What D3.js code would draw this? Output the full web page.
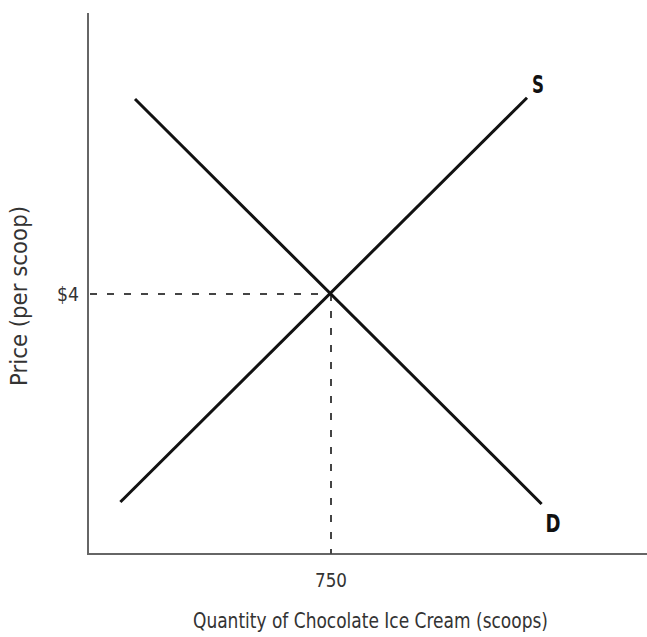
<!DOCTYPE html>
<html>
<head>
<meta charset="utf-8">
<script src="https://cdn.jsdelivr.net/npm/d3@7"></script>
<style>
  body { margin: 0; background: #fff; }
  text { font-family: "DejaVu Sans", sans-serif; fill: #333; }
</style>
</head>
<body>
<div id="wrapper"></div>
<script>
// data
const supplyPoints = [{ q: 100, p: 0.8 }, { q: 1355, p: 7.02 }]
const demandPoints = [{ q: 145, p: 7.0 }, { q: 1400, p: 0.77 }]
const equilibrium = { q: 750, p: 4 }
const xTickLabels = ['750']
const yTickLabels = ['$4']
const curveLabels = ['S', 'D']

const width = 647
const height = 637

const svg = d3.select('#wrapper').append('svg')
  .attr('width', width)
  .attr('height', height)

// scales
const x = d3.scaleLinear().domain([0, 1500]).range([88, 574])
const y = d3.scaleLinear().domain([0, 8]).range([554, 34])

// axes
svg.append('line')
  .attr('x1', x(0)).attr('x2', x(0))
  .attr('y1', 13).attr('y2', y(0))
  .attr('stroke', '#666').attr('stroke-width', 2)
svg.append('line')
  .attr('x1', x(0) - 1).attr('x2', width)
  .attr('y1', y(0)).attr('y2', y(0))
  .attr('stroke', '#666').attr('stroke-width', 2)

// dashed guides
svg.append('line')
  .attr('x1', x(0) + 2).attr('x2', x(equilibrium.q))
  .attr('y1', y(equilibrium.p)).attr('y2', y(equilibrium.p))
  .attr('stroke', '#444').attr('stroke-width', 2)
  .attr('stroke-dasharray', '7,10')
svg.append('line')
  .attr('x1', x(equilibrium.q)).attr('x2', x(equilibrium.q))
  .attr('y1', y(equilibrium.p)).attr('y2', y(0))
  .attr('stroke', '#444').attr('stroke-width', 2)
  .attr('stroke-dasharray', '7,10')

// curves
const line = d3.line().x(d => x(d.q)).y(d => y(d.p))
svg.append('path')
  .attr('d', line(supplyPoints))
  .attr('fill', 'none').attr('stroke', '#111').attr('stroke-width', 3)
svg.append('path')
  .attr('d', line(demandPoints))
  .attr('fill', 'none').attr('stroke', '#111').attr('stroke-width', 3)

// curve labels (narrowed to look condensed)
svg.append('text')
  .attr('x', x(supplyPoints[1].q) + 5).attr('y', y(supplyPoints[1].p) - 5)
  .attr('textLength', 12).attr('lengthAdjust', 'spacingAndGlyphs')
  .style('font-size', '24px').style('font-weight', 'bold').style('fill', '#111')
  .text(curveLabels[0])
svg.append('text')
  .attr('x', x(demandPoints[1].q) + 4).attr('y', y(demandPoints[1].p) + 28)
  .attr('textLength', 15).attr('lengthAdjust', 'spacingAndGlyphs')
  .style('font-size', '24px').style('font-weight', 'bold').style('fill', '#111')
  .text(curveLabels[1])

// tick labels
svg.append('text')
  .attr('x', x(equilibrium.q) - 16).attr('y', 587)
  .attr('textLength', 32).attr('lengthAdjust', 'spacingAndGlyphs')
  .style('font-size', '20px')
  .text(xTickLabels[0])
svg.append('text')
  .attr('x', 57).attr('y', y(equilibrium.p) + 7)
  .attr('textLength', 22).attr('lengthAdjust', 'spacingAndGlyphs')
  .style('font-size', '20px')
  .text(yTickLabels[0])

// axis titles
svg.append('text')
  .attr('x', 193).attr('y', 628)
  .attr('textLength', 355).attr('lengthAdjust', 'spacingAndGlyphs')
  .style('font-size', '21px')
  .text('Quantity of Chocolate Ice Cream (scoops)')
svg.append('text')
  .attr('transform', 'translate(27, 386) rotate(-90)')
  .attr('textLength', 180).attr('lengthAdjust', 'spacingAndGlyphs')
  .style('font-size', '23px')
  .text('Price (per scoop)')
</script>
</body>
</html>
